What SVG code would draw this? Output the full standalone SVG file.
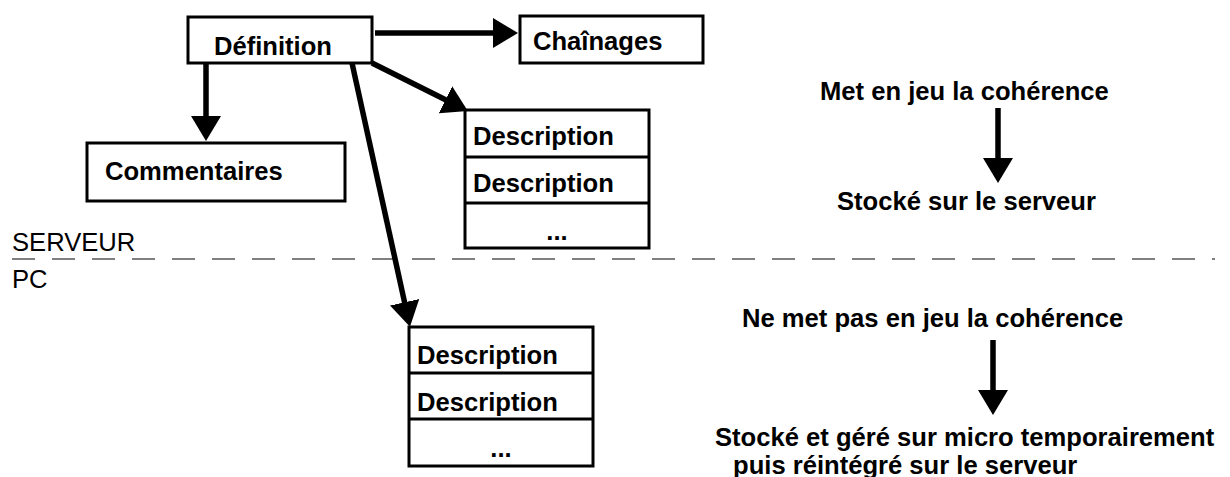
<svg xmlns="http://www.w3.org/2000/svg" width="1230" height="477" viewBox="0 0 1230 477">
<style>
.box{fill:#fff;stroke:#000;stroke-width:3}
.sep{fill:none;stroke:#000;stroke-width:3}
.t{font-family:"Liberation Sans",Arial,sans-serif;font-weight:bold;font-size:25.6px;fill:#000}
.r{font-family:"Liberation Sans",Arial,sans-serif;font-size:25.6px;fill:#000}
.c{fill:none;stroke:#000;stroke-width:5.5}
.dash{fill:none;stroke:#808080;stroke-width:2;stroke-dasharray:23 17}
</style>
<defs>
<marker id="ah" markerUnits="userSpaceOnUse" markerWidth="26" markerHeight="30" refX="14" refY="15" orient="auto">
<path d="M0,0 L25,15 L0,30 z" fill="#000"/>
</marker>
</defs>
<rect width="1230" height="477" fill="#fff"/>
<g id="divider">
<line class="dash" x1="12" y1="259" x2="1215" y2="259"/>
<text class="r" x="12" y="251">SERVEUR</text>
<text class="r" x="12" y="288">PC</text>
</g>
<g id="connectors">
<line class="c" x1="375" y1="33" x2="507" y2="33" marker-end="url(#ah)"/>
<line class="c" x1="206" y1="63" x2="206" y2="130" marker-end="url(#ah)"/>
<line class="c" x1="372" y1="63" x2="458" y2="106" marker-end="url(#ah)"/>
<line class="c" x1="352" y1="63" x2="407.6" y2="316" marker-end="url(#ah)"/>
<line class="c" x1="998" y1="108" x2="998" y2="172" marker-end="url(#ah)"/>
<line class="c" x1="993" y1="340" x2="993" y2="404" marker-end="url(#ah)"/>
</g>
<g id="definition">
<rect class="box" x="188" y="17" width="184" height="46"/>
<text class="t" x="214" y="55">Définition</text>
</g>
<g id="chainages">
<rect class="box" x="520" y="16" width="183" height="47"/>
<text class="t" x="533" y="50">Chaînages</text>
</g>
<g id="commentaires">
<rect class="box" x="87" y="143" width="258" height="58"/>
<text class="t" x="105" y="180">Commentaires</text>
</g>
<g id="descriptions-serveur">
<rect class="box" x="465" y="110" width="184" height="138"/>
<line class="sep" x1="465" y1="157" x2="649" y2="157"/>
<line class="sep" x1="465" y1="203" x2="649" y2="203"/>
<text class="t" x="473" y="145">Description</text>
<text class="t" x="473" y="192">Description</text>
<text class="t" x="557" y="240" text-anchor="middle">...</text>
</g>
<g id="descriptions-pc">
<rect class="box" x="409" y="327" width="184" height="139"/>
<line class="sep" x1="409" y1="373" x2="593" y2="373"/>
<line class="sep" x1="409" y1="419" x2="593" y2="419"/>
<text class="t" x="417" y="364">Description</text>
<text class="t" x="417" y="411">Description</text>
<text class="t" x="501" y="457" text-anchor="middle">...</text>
</g>
<g id="note-serveur">
<text class="t" x="820" y="100">Met en jeu la cohérence</text>
<text class="t" x="837" y="210">Stocké sur le serveur</text>
</g>
<g id="note-pc">
<text class="t" x="742" y="327">Ne met pas en jeu la cohérence</text>
<text class="t" x="715" y="446">Stocké et géré sur micro temporairement</text>
<text class="t" x="733" y="474">puis réintégré sur le serveur</text>
</g>
</svg>
